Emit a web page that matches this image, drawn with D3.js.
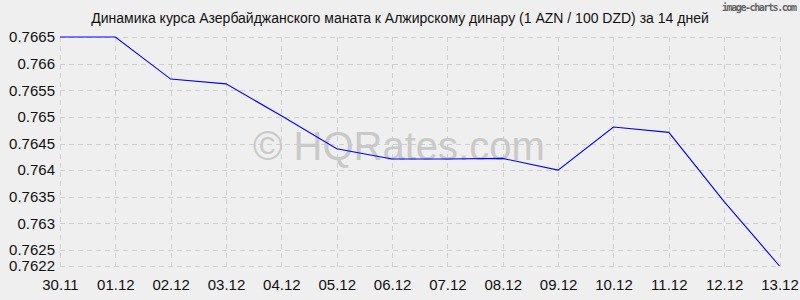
<!DOCTYPE html>
<html>
<head>
<meta charset="utf-8">
<script src="https://cdn.jsdelivr.net/npm/d3@7"></script>
<style>
  body { margin: 0; background: #efefef; }
  svg { display: block; }
</style>
</head>
<body>
<div id="chart"></div>
<script>
const dates = ['30.11', '01.12', '02.12', '03.12', '04.12', '05.12', '06.12',
               '07.12', '08.12', '09.12', '10.12', '11.12', '12.12', '13.12'];
const rates = [0.7665, 0.7665, 0.76571, 0.76562, 0.76502, 0.7644, 0.76421,
               0.76421, 0.76422, 0.7640, 0.76481, 0.76471, 0.76341, 0.7622];
const yTicks = [0.7622, 0.7625, 0.763, 0.7635, 0.764, 0.7645, 0.765, 0.7655, 0.766, 0.7665];
const title = 'Динамика курса Азербайджанского маната к Алжирскому динару (1 AZN / 100 DZD) за 14 дней';

const width = 800, height = 300;
const margin = { top: 37, right: 20.5, bottom: 34, left: 60 };

const svg = d3.select('#chart')
    .append('svg')
    .attr('width', width)
    .attr('height', height)
    .style('font-family', '"Liberation Sans", Arial, sans-serif');

svg.append('rect').attr('width', width).attr('height', height).attr('fill', '#efefef');

const x = d3.scalePoint()
    .domain(dates)
    .range([margin.left, width - margin.right]);

const y = d3.scaleLinear()
    .domain([d3.min(yTicks), d3.max(yTicks)])
    .range([height - margin.bottom, margin.top]);

// grid
const grid = svg.append('g')
    .attr('stroke', '#cfcfcf')
    .attr('stroke-dasharray', '5,4')
    .attr('shape-rendering', 'crispEdges');

grid.selectAll('line.h')
    .data(yTicks)
    .join('line')
    .attr('x1', margin.left)
    .attr('x2', width - margin.right)
    .attr('y1', d => Math.round(y(d)) + 0.5)
    .attr('y2', d => Math.round(y(d)) + 0.5);

grid.selectAll('line.v')
    .data(dates)
    .join('line')
    .attr('class', 'v')
    .attr('x1', d => Math.round(x(d)) + 0.5)
    .attr('x2', d => Math.round(x(d)) + 0.5)
    .attr('y1', margin.top)
    .attr('y2', height - margin.bottom + 5);

// watermark
svg.append('text')
    .attr('x', 253)
    .attr('y', 160)
    .attr('font-size', '40px')
    .attr('fill', '#c9c9c9')
    .text('© HQRates.com');

// y axis
const yAxis = svg.append('g')
    .attr('transform', `translate(${margin.left},0)`)
    .call(d3.axisLeft(y).tickValues(yTicks).tickFormat(d => String(+d.toFixed(4))).tickSize(0).tickPadding(5));
yAxis.select('.domain').remove();
yAxis.selectAll('text')
    .attr('font-size', '15px')
    .attr('font-family', '"Liberation Sans", Arial, sans-serif')
    .attr('fill', '#111');

// x axis
const xAxis = svg.append('g')
    .attr('transform', `translate(0,${height - margin.bottom})`)
    .call(d3.axisBottom(x).tickSize(0).tickPadding(13));
xAxis.select('.domain').remove();
xAxis.selectAll('text')
    .attr('font-size', '15px')
    .attr('font-family', '"Liberation Sans", Arial, sans-serif')
    .attr('fill', '#111');

// line
svg.append('path')
    .datum(rates)
    .attr('fill', 'none')
    .attr('stroke', '#0000ff')
    .attr('stroke-width', 1.1)
    .attr('d', d3.line().x((d, i) => x(dates[i])).y(d => y(d)));

// title
svg.append('text')
    .attr('x', 400)
    .attr('y', 23)
    .attr('text-anchor', 'middle')
    .attr('font-size', '14px')
    .attr('fill', '#111')
    .text(title);

svg.append('text')
    .attr('x', 722)
    .attr('y', 11)
    .attr('font-size', '10px')
    .attr('font-weight', 'bold')
    .attr('font-family', '"DejaVu Sans Mono", monospace')
    .attr('textLength', 75)
    .attr('fill', '#666')
    .text('image-charts.com');
</script>
</body>
</html>
